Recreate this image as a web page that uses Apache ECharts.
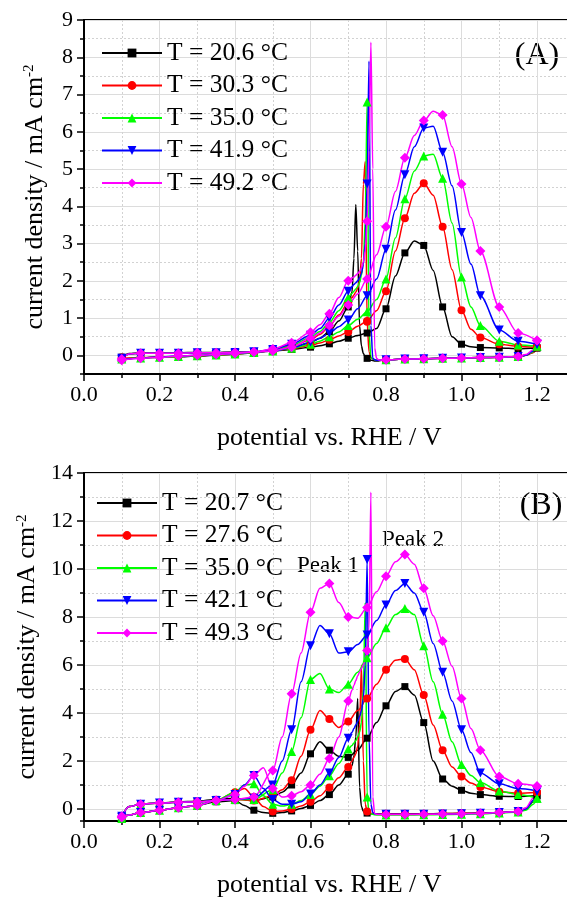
<!DOCTYPE html>
<html><head><meta charset="utf-8">
<script src="https://cdn.jsdelivr.net/npm/echarts@6/dist/echarts.min.js"></script>
<style>html,body{margin:0;padding:0;background:#fff;overflow:hidden;width:567px;height:899px}#c{width:640px;height:899px}</style>
</head><body><div id="c"></div>
<script>
// ---------------- DATA ----------------
const namesA = ['T = 20.6 °C', 'T = 30.3 °C', 'T = 35.0 °C', 'T = 41.9 °C', 'T = 49.2 °C'];
const namesB = ['T = 20.7 °C', 'T = 27.6 °C', 'T = 35.0 °C', 'T = 42.1 °C', 'T = 49.3 °C'];
const xTicks = [0.0, 0.2, 0.4, 0.6, 0.8, 1.0, 1.2];

// Panel A – forward (anodic) scan potentials
const fwdPotA = [0.10,0.12,0.15,0.20,0.25,0.30,0.35,0.40,0.45,0.50,0.55,0.60,0.625,0.65,0.675,0.70,0.725,0.75,0.775,0.80,0.825,0.85,0.875,0.90,0.925,0.95,0.975,1.00,1.025,1.05,1.10,1.15,1.20];
const fwdA_206 = [-0.05,0.05,0.07,0.07,0.07,0.08,0.08,0.09,0.10,0.12,0.16,0.22,0.26,0.31,0.38,0.46,0.53,0.60,0.72,1.25,2.13,2.75,3.07,2.95,2.28,1.30,0.50,0.30,0.23,0.21,0.20,0.18,0.20];
const fwdA_303 = [-0.05,0.04,0.06,0.06,0.06,0.07,0.07,0.08,0.09,0.12,0.18,0.27,0.33,0.42,0.52,0.63,0.78,0.92,1.20,1.72,2.80,3.68,4.35,4.62,4.30,3.45,2.30,1.21,0.70,0.48,0.30,0.24,0.22];
const fwdA_350 = [-0.06,0.04,0.06,0.06,0.06,0.07,0.07,0.08,0.09,0.12,0.19,0.30,0.38,0.50,0.63,0.80,0.97,1.17,1.50,2.05,3.15,4.20,4.95,5.35,5.40,4.75,3.55,2.10,1.30,0.80,0.38,0.28,0.25];
const fwdA_419 = [-0.08,0.04,0.06,0.06,0.06,0.07,0.07,0.08,0.09,0.12,0.20,0.35,0.46,0.60,0.77,0.95,1.25,1.60,2.05,2.85,3.90,4.85,5.60,6.10,6.15,5.45,4.55,3.30,2.45,1.60,0.68,0.38,0.30];
const fwdA_492 = [-0.10,0.04,0.06,0.06,0.06,0.07,0.07,0.08,0.09,0.12,0.22,0.45,0.60,0.80,1.05,1.35,1.65,2.05,2.70,3.45,4.40,5.30,5.90,6.30,6.55,6.45,5.60,4.60,3.70,2.80,1.30,0.60,0.40];

// Panel A – backward (cathodic) scan potentials
const bwdPotA = [1.20,1.19,1.17,1.15,1.10,1.05,1.00,0.95,0.90,0.85,0.80,0.79,0.78,0.775,0.77,0.765,0.76,0.755,0.75,0.745,0.74,0.735,0.73,0.725,0.72,0.715,0.71,0.70,0.675,0.65,0.625,0.60,0.55,0.50,0.45,0.40,0.35,0.30,0.25,0.20,0.15,0.10];
const bwdA_206 = [0.20,0.08,0.00,-0.03,-0.05,-0.06,-0.07,-0.08,-0.09,-0.10,-0.12,-0.13,-0.15,-0.15,-0.15,-0.14,-0.13,-0.11,-0.08,-0.04,0.05,0.25,0.80,2.80,4.05,2.60,1.70,1.30,0.92,0.64,0.46,0.34,0.20,0.13,0.07,0.03,0.00,-0.02,-0.04,-0.05,-0.07,-0.10];
const bwdA_303 = [0.22,0.08,0.00,-0.03,-0.05,-0.06,-0.07,-0.08,-0.09,-0.10,-0.12,-0.13,-0.13,-0.13,-0.12,-0.10,-0.06,0.10,0.90,5.20,4.60,2.60,2.00,1.80,1.70,1.62,1.55,1.42,1.08,0.78,0.56,0.42,0.24,0.14,0.08,0.04,0.01,-0.01,-0.03,-0.04,-0.06,-0.08];
const bwdA_350 = [0.25,0.10,0.00,-0.03,-0.05,-0.06,-0.07,-0.08,-0.09,-0.10,-0.12,-0.13,-0.13,-0.13,-0.12,-0.10,-0.05,0.60,6.80,3.60,2.50,2.15,1.95,1.85,1.78,1.72,1.67,1.55,1.20,0.88,0.64,0.48,0.27,0.15,0.08,0.04,0.01,-0.01,-0.03,-0.05,-0.07,-0.10];
const bwdA_419 = [0.30,0.12,0.00,-0.03,-0.05,-0.06,-0.07,-0.08,-0.09,-0.10,-0.12,-0.13,-0.13,-0.13,-0.12,-0.08,0.80,7.90,4.60,3.00,2.45,2.20,2.08,2.00,1.95,1.90,1.85,1.72,1.35,1.00,0.72,0.54,0.30,0.16,0.09,0.05,0.02,0.00,-0.02,-0.04,-0.07,-0.12];
const bwdA_492 = [0.40,0.15,0.02,-0.03,-0.05,-0.06,-0.07,-0.08,-0.09,-0.10,-0.12,-0.13,-0.12,-0.08,0.20,5.00,8.40,5.50,3.60,2.80,2.50,2.35,2.25,2.20,2.15,2.10,2.08,2.00,1.55,1.12,0.82,0.62,0.34,0.17,0.09,0.05,0.02,0.00,-0.02,-0.05,-0.08,-0.13];

// Panel B – forward scan potentials
const fwdPotB = [0.10,0.12,0.15,0.20,0.25,0.30,0.35,0.40,0.45,0.50,0.525,0.55,0.575,0.60,0.625,0.65,0.675,0.70,0.725,0.75,0.775,0.80,0.825,0.85,0.875,0.90,0.925,0.95,0.975,1.00,1.025,1.05,1.10,1.15,1.20];
const fwdB_207 = [-0.30,0.10,0.20,0.25,0.30,0.32,0.40,0.45,0.35,0.50,0.70,1.00,1.50,2.30,2.80,2.45,2.20,2.15,2.45,2.95,3.60,4.30,4.90,5.10,4.75,3.60,2.00,1.25,0.95,0.78,0.66,0.60,0.53,0.52,0.55];
const fwdB_276 = [-0.30,0.10,0.20,0.25,0.28,0.30,0.35,0.40,0.35,0.55,0.80,1.20,2.20,3.30,4.10,3.75,3.40,3.65,4.10,4.60,5.20,5.80,6.20,6.25,5.80,4.75,3.50,2.45,1.75,1.35,1.08,0.92,0.72,0.66,0.70];
const fwdB_350 = [-0.30,0.10,0.20,0.25,0.28,0.30,0.35,0.40,0.40,0.80,1.50,2.40,3.80,5.40,5.65,5.00,4.85,5.20,5.70,6.30,6.90,7.55,8.10,8.35,8.10,6.80,5.30,3.95,2.80,1.85,1.40,1.10,0.75,0.60,0.45];
const fwdB_421 = [-0.30,0.10,0.20,0.25,0.28,0.30,0.35,0.40,0.45,1.00,2.00,3.30,5.30,6.80,7.65,7.30,6.50,6.55,6.85,7.25,7.85,8.50,9.10,9.40,9.00,8.20,6.90,5.70,4.50,3.30,2.35,1.50,1.05,0.85,0.75];
const fwdB_493 = [-0.30,0.10,0.20,0.25,0.28,0.30,0.35,0.40,0.50,1.60,3.00,4.80,6.50,8.20,9.20,9.40,8.60,8.00,7.95,8.40,9.05,9.70,10.30,10.60,10.20,9.20,8.05,7.00,5.95,4.60,3.35,2.45,1.35,1.05,0.95];

// Panel B – backward scan potentials
const bwdPotB = [1.20,1.19,1.17,1.15,1.10,1.05,1.00,0.95,0.90,0.85,0.80,0.78,0.77,0.765,0.76,0.755,0.75,0.745,0.74,0.735,0.73,0.725,0.72,0.715,0.71,0.70,0.675,0.65,0.625,0.60,0.575,0.55,0.525,0.50,0.475,0.45,0.425,0.40,0.35,0.30,0.25,0.20,0.15,0.12,0.10];
const bwdB_207 = [0.55,0.30,0.00,-0.10,-0.15,-0.17,-0.18,-0.19,-0.20,-0.20,-0.20,-0.20,-0.20,-0.20,-0.19,-0.18,-0.17,-0.15,-0.10,0.10,0.90,4.60,3.00,2.20,1.80,1.45,1.00,0.60,0.35,0.15,0.02,-0.08,-0.15,-0.18,-0.15,-0.05,0.15,0.35,0.30,0.15,0.05,-0.05,-0.15,-0.25,-0.35];
const bwdB_276 = [0.70,0.35,0.00,-0.10,-0.15,-0.17,-0.18,-0.19,-0.20,-0.20,-0.20,-0.20,-0.20,-0.19,-0.18,-0.15,-0.10,0.20,2.00,6.00,3.50,2.60,2.30,2.15,2.00,1.75,1.30,0.90,0.55,0.30,0.12,0.00,-0.08,-0.10,0.10,0.50,0.85,0.70,0.35,0.15,0.05,-0.05,-0.15,-0.25,-0.35];
const bwdB_350 = [0.45,0.20,-0.05,-0.12,-0.17,-0.20,-0.22,-0.23,-0.24,-0.25,-0.25,-0.25,-0.24,-0.22,-0.20,-0.10,0.50,8.60,5.00,3.60,3.20,3.00,2.85,2.75,2.65,2.50,1.90,1.39,0.95,0.60,0.35,0.20,0.12,0.20,0.55,1.05,1.00,0.70,0.35,0.15,0.05,-0.05,-0.15,-0.25,-0.40];
const bwdB_421 = [0.75,0.35,0.00,-0.10,-0.15,-0.18,-0.20,-0.21,-0.22,-0.22,-0.22,-0.22,-0.20,-0.15,0.20,3.00,10.40,6.00,4.60,4.10,3.85,3.65,3.50,3.35,3.20,2.95,2.15,1.50,1.00,0.62,0.30,0.20,0.20,0.40,0.85,1.40,1.00,0.60,0.35,0.15,0.05,-0.05,-0.15,-0.25,-0.35];
const bwdB_493 = [0.95,0.45,0.05,-0.10,-0.15,-0.18,-0.20,-0.21,-0.22,-0.23,-0.23,-0.23,-0.20,0.50,13.20,7.50,6.60,6.25,6.00,5.85,5.70,5.55,5.35,5.15,4.95,4.50,3.00,2.10,1.45,1.00,0.72,0.55,0.50,0.85,1.72,1.40,0.95,0.60,0.35,0.15,0.05,-0.05,-0.15,-0.25,-0.35];

// ---------------- STYLE / BUILD ----------------
const FONT = 'Liberation Serif';
const colors = ['#000000', '#ff0000', '#00ff00', '#0000ff', '#ff00ff'];
const symbols = ['rect', 'circle', 'triangle', 'triangle', 'diamond'];
const symRot = [0, 0, 0, 180, 0];
const symSize = [7, 8, 9, 9, 10];

function isMarker(x) { return Math.abs(x * 20 - Math.round(x * 20)) < 1e-6; }
function build(xs, ys) {
  return xs.map((x, i) => {
    const it = { value: [x, ys[i]] };
    if (!isMarker(x)) it.symbol = 'none';
    return it;
  });
}

const panels = [
  { names: namesA, fx: fwdPotA, bx: bwdPotA, f: [fwdA_206, fwdA_303, fwdA_350, fwdA_419, fwdA_492], b: [bwdA_206, bwdA_303, bwdA_350, bwdA_419, bwdA_492] },
  { names: namesB, fx: fwdPotB, bx: bwdPotB, f: [fwdB_207, fwdB_276, fwdB_350, fwdB_421, fwdB_493], b: [bwdB_207, bwdB_276, bwdB_350, bwdB_421, bwdB_493] }
];

// y axes: 0,1 = minor grid helpers; 2,3 = main axes used by the series
const series = [];
panels.forEach((p, g) => {
  for (let i = 0; i < 5; i++) {
    [[p.fx, p.f[i]], [p.bx, p.b[i]]].forEach(([xs, ys]) => {
      series.push({
        type: 'line', name: p.names[i], xAxisIndex: g, yAxisIndex: 2 + g,
        data: build(xs, ys), smooth: 0.3, smoothMonotone: 'x',
        symbol: symbols[i], symbolRotate: symRot[i], symbolSize: symSize[i],
        showSymbol: true, showAllSymbol: true,
        lineStyle: { color: colors[i], width: 1.5 },
        itemStyle: { color: colors[i], borderWidth: 0 },
        emphasis: { disabled: true }, animation: false
      });
    });
  }
});

const gridLine = { show: true, lineStyle: { color: '#dcdcdc', width: 1 } };
const minorGridStyle = { color: '#d2d2d2', width: 1, type: [2, 2] };

function xAxis(g) {
  return {
    gridIndex: g, type: 'value', min: 0, max: 1.4, interval: 0.2, position: 'bottom',
    axisLine: { onZero: false, lineStyle: { color: '#000', width: 2 } },
    axisTick: { length: 7, lineStyle: { color: '#000', width: 1.5 } },
    minorTick: { show: true, splitNumber: 2, length: 4, lineStyle: { color: '#000', width: 1.5 } },
    splitLine: gridLine, minorSplitLine: { show: true, lineStyle: minorGridStyle },
    axisLabel: { fontFamily: FONT, fontSize: 22, color: '#000', margin: 10,
      formatter: v => (xTicks.some(t => Math.abs(t - v) < 1e-9) ? v.toFixed(1) : '') },
    name: 'potential vs. RHE / V', nameLocation: 'middle', nameGap: 51,
    nameTextStyle: { fontFamily: FONT, fontSize: 26, color: '#000', padding: [0, 38, 0, 0] }
  };
}
function yMinor(g, max, split) {
  return {
    gridIndex: g, type: 'value', min: -0.5, max: max, splitNumber: split, position: 'left',
    axisLine: { show: false }, axisLabel: { show: false },
    axisTick: { show: true, length: 4, lineStyle: { color: '#000', width: 1.5 } },
    splitLine: { show: true, lineStyle: minorGridStyle }
  };
}
function yAxis(g, max, split) {
  return {
    gridIndex: g, type: 'value', min: -0.5, max: max, splitNumber: split, position: 'left',
    axisLine: { onZero: false, lineStyle: { color: '#000', width: 2 } },
    axisTick: { length: 7, lineStyle: { color: '#000', width: 1.5 } },
    splitLine: gridLine,
    axisLabel: { fontFamily: FONT, fontSize: 22, color: '#000', margin: 11, showMinLabel: false,
      formatter: v => (Math.abs(v - Math.round(v)) < 1e-9 ? String(Math.round(v)) : '') },
    name: 'current density / mA cm{sup|-2}', nameLocation: 'middle', nameGap: 36, nameRotate: 90,
    nameTextStyle: { fontFamily: FONT, fontSize: 26, color: '#000',
      rich: { sup: { fontFamily: FONT, fontSize: 15, color: '#000', verticalAlign: 'top' } } }
  };
}

const legendBase = {
  orient: 'vertical', itemWidth: 60, itemHeight: 11, itemGap: 6.5, selectedMode: false,
  textStyle: { fontFamily: FONT, fontSize: 25.5, color: '#000', lineHeight: 26 }
};

const option = {
  animation: false,
  backgroundColor: '#fff',
  grid: [
    { left: 84, top: 20, width: 528.5, height: 354, show: true, borderColor: '#000', borderWidth: 2, backgroundColor: 'transparent' },
    { left: 84, top: 473, width: 528.5, height: 354, show: true, borderColor: '#000', borderWidth: 2, backgroundColor: 'transparent' }
  ],
  xAxis: [xAxis(0), xAxis(1)],
  yAxis: [yMinor(0, 9, 19), yMinor(1, 14, 14), yAxis(0, 9, 9), yAxis(1, 14, 7)],
  legend: [
    Object.assign({}, legendBase, { data: namesA, left: 96, top: 35 }),
    Object.assign({}, legendBase, { data: namesB, left: 91, top: 485 })
  ],
  graphic: [
    { type: 'text', x: 537, y: 56, style: { text: '(A)', fontFamily: FONT, fontSize: 32, fill: '#000', align: 'center', verticalAlign: 'middle' } },
    { type: 'text', x: 541, y: 506, style: { text: '(B)', fontFamily: FONT, fontSize: 32, fill: '#000', align: 'center', verticalAlign: 'middle' } },
    { type: 'text', x: 328, y: 566, style: { text: 'Peak 1', fontFamily: FONT, fontSize: 23, fill: '#000', align: 'center', verticalAlign: 'middle' } },
    { type: 'text', x: 413, y: 540, style: { text: 'Peak 2', fontFamily: FONT, fontSize: 23, fill: '#000', align: 'center', verticalAlign: 'middle' } }
  ],
  series: series
};

const chart = echarts.init(document.getElementById('c'), null, { renderer: 'canvas' });
chart.setOption(option);
</script></body></html>
